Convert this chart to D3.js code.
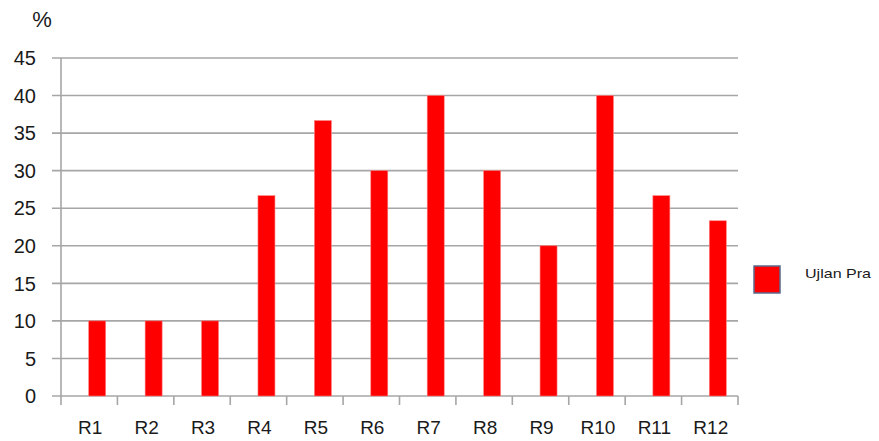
<!DOCTYPE html>
<html><head><meta charset="utf-8">
<script src="https://cdn.jsdelivr.net/npm/d3@7"></script>
<style>body{margin:0;background:#fff}svg{display:block}</style>
</head><body>
<svg id="c" width="879" height="441"></svg>
<script>
const categories = ["R1","R2","R3","R4","R5","R6","R7","R8","R9","R10","R11","R12"];
const values = [10,10,10,26.67,36.67,30,40,30,20,40,26.67,23.33];
const yTicks = [0,5,10,15,20,25,30,35,40,45];
const seriesName = "Ujlan Pra";
const unitLabel = "%";

const svg = d3.select("#c");
const L = 61, R = 738, T = 58, B = 396;
const x = d3.scaleBand().domain(categories).range([L, R]);
const y = d3.scaleLinear().domain([0, 45]).range([B, T]);
const font = "'Liberation Sans', Arial, sans-serif";

// gridlines with left tick stubs
svg.append("g").selectAll("line").data(yTicks).join("line")
  .attr("x1", L - 9).attr("x2", R).attr("y1", d => y(d)).attr("y2", d => y(d))
  .attr("stroke", "#a6a6a6").attr("stroke-width", 1.6);

// y axis line
svg.append("line").attr("x1", L).attr("x2", L).attr("y1", T).attr("y2", B)
  .attr("stroke", "#a6a6a6").attr("stroke-width", 1.6);

// x axis ticks at band boundaries
const bounds = categories.map(c => x(c)).concat([R]);
svg.append("g").selectAll("line").data(bounds).join("line")
  .attr("x1", d => d).attr("x2", d => d).attr("y1", B).attr("y2", B + 9)
  .attr("stroke", "#a6a6a6").attr("stroke-width", 1.6);

// y labels
svg.append("g").selectAll("text").data(yTicks).join("text")
  .attr("x", 36).attr("y", d => y(d)).attr("dy", "0.36em")
  .attr("text-anchor", "end").attr("font-family", font).attr("font-size", 20)
  .attr("fill", "#1a1a1a").text(d => d);

// unit label
svg.append("text").attr("x", 42).attr("y", 19).attr("dy", "0.36em").attr("text-anchor", "middle")
  .attr("font-family", font).attr("font-size", 22).attr("fill", "#1a1a1a").text(unitLabel);

// bars
const bw = 17, off = 8;
svg.append("g").selectAll("rect").data(values).join("rect")
  .attr("x", (d, i) => x(categories[i]) + x.bandwidth() / 2 + off - bw / 2)
  .attr("y", d => y(d)).attr("width", bw).attr("height", d => B - y(d))
  .attr("fill", "#ff0000").attr("stroke", "#ff8080").attr("stroke-width", 0.6);

// x labels
svg.append("g").selectAll("text").data(categories).join("text")
  .attr("x", d => x(d) + x.bandwidth() / 2 + 1).attr("y", 427).attr("dy", "0.36em")
  .attr("text-anchor", "middle").attr("font-family", font).attr("font-size", 19)
  .attr("fill", "#1a1a1a").text(d => d);

// legend
svg.append("rect").attr("x", 754).attr("y", 266).attr("width", 26).attr("height", 27)
  .attr("fill", "#ff0000").attr("stroke", "#5b6a8c").attr("stroke-width", 1.5);
svg.append("text").attr("x", 805).attr("y", 273).attr("dy", "0.36em")
  .attr("font-family", font).attr("font-size", 13).attr("textLength", 66)
  .attr("lengthAdjust", "spacingAndGlyphs")
  .attr("fill", "#1a1a1a").text(seriesName);
</script>
</body></html>
